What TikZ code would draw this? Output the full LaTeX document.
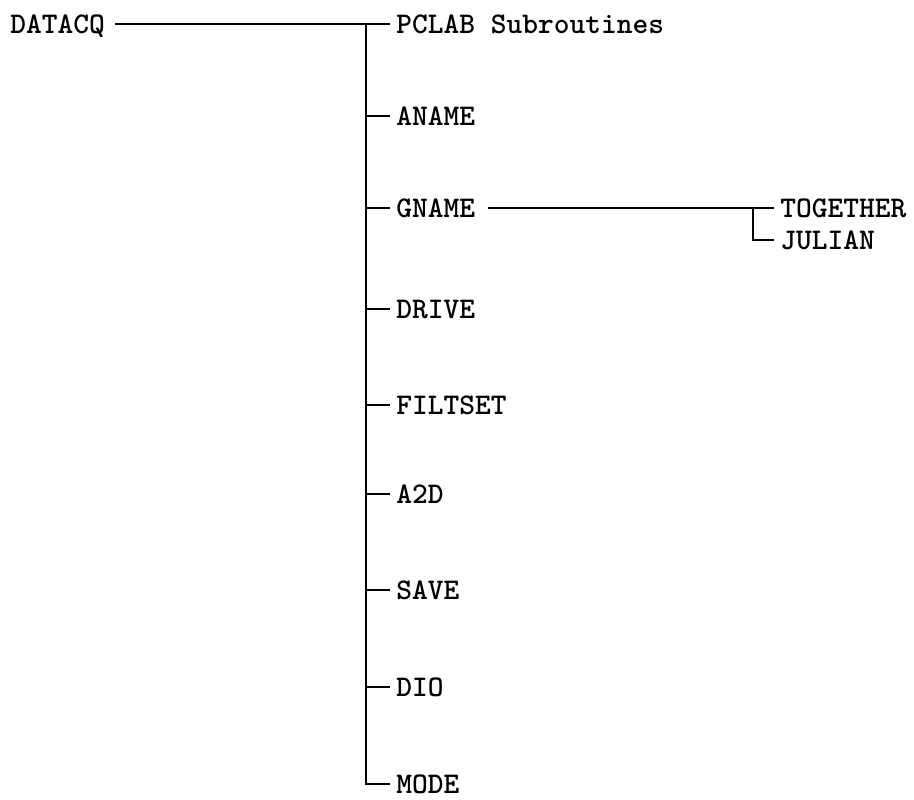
\documentclass[tikz,border=0pt]{standalone}
\usetikzlibrary{positioning}
\tikzset{
  routine/.style={font=\ttfamily\bfseries\fontsize{15}{16}\selectfont, anchor=west, inner sep=0pt, text height=9pt, text depth=0pt},
  branch/.style={line width=1pt, color=black},
  tick/.style={branch, shorten >=3pt}
}
\begin{document}
\begin{tikzpicture}[x=0.5pt, y=-0.5pt]
\useasboundingbox (0,0) rectangle (914,799);
\node[routine] (datacq) at (10,24) {DATACQ};
\node[routine] (pclab) at (396,24) {PCLAB Subroutines};
\coordinate (trunk) at (366,24);
\draw[tick, shorten <=5pt] (datacq.east) -- (pclab.west);
% routines called from the trunk
\foreach \name/\lbl/\y in {aname/ANAME/116, gname/GNAME/208, drive/DRIVE/309, filtset/FILTSET/405, a2d/A2D/494, save/SAVE/590, dio/DIO/687} {
  \node[routine] (\name) at (396,\y) {\lbl};
  \draw[tick] (trunk |- \name.west) -- (\name.west);
}
\node[routine] (mode) at (396,784) {MODE};
\draw[tick] (trunk) |- (mode.west);
% GNAME calls
\node[routine] (together) at (780,208) {TOGETHER};
\node[routine] (julian) at (780,240) {JULIAN};
\coordinate (sub) at (753,208);
\draw[tick, shorten <=6pt] (gname.east) -- (together.west);
\draw[tick] (sub) |- (julian.west);
\end{tikzpicture}
\end{document}
